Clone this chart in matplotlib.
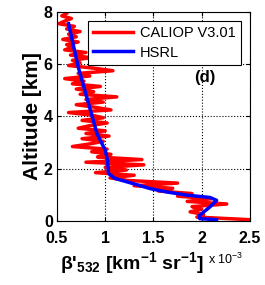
import numpy as np
import matplotlib
matplotlib.use("Agg")
import matplotlib.pyplot as plt

plt.rcParams['font.family'] = ['Liberation Sans', 'DejaVu Sans']
plt.rcParams['mathtext.fontset'] = 'custom'
plt.rcParams['mathtext.rm'] = 'Liberation Sans'
plt.rcParams['mathtext.bf'] = 'Liberation Sans:bold'
plt.rcParams['mathtext.it'] = 'Liberation Sans:bold'

# CALIOP V3.01 profile (x 1e-3 km^-1 sr^-1), altitude bins from top to bottom
caliop_alt = np.round(np.arange(7.95, 0.0, -0.1), 2)
caliop_beta = [0.60, 0.55, 0.65, 0.58, 0.52, 0.68, 0.60, 0.74, 0.62, 0.70,
               0.56, 0.72, 0.60, 0.66, 0.58, 0.80, 0.64, 0.85, 0.66, 0.74,
               0.62, 0.88, 1.08, 0.72, 0.84, 0.58, 0.78, 0.66, 0.95, 0.70,
               0.88, 0.74, 1.12, 0.80, 0.98, 0.70, 0.90, 1.06, 0.62, 0.86,
               0.98, 0.76, 1.02, 0.84, 0.72, 1.00, 0.80, 1.04, 0.76, 0.98,
               0.84, 0.66, 1.02, 0.86, 1.06, 0.92, 1.38, 0.80, 1.40, 1.00,
               1.22, 0.90, 1.30, 1.05, 1.24, 1.75, 1.30, 1.70, 1.55, 1.90,
               1.75, 2.10, 1.85, 2.26, 1.90, 2.00, 1.88, 2.02, 1.95, 2.50]

# HSRL profile
hsrl_alt = [7.55, 5.90, 4.63, 3.35, 2.71, 2.33, 1.82, 1.63, 1.43, 1.24,
            1.11, 0.99, 0.90, 0.79, 0.54, 0.22, 0.09, 0.05]
hsrl_beta = [0.62, 0.72, 0.817, 0.914, 1.00, 1.024, 1.034, 1.10, 1.29, 1.466,
             1.64, 1.845, 2.086, 2.155, 2.086, 1.98, 1.98, 2.155]

xticks = [0.5, 1, 1.5, 2, 2.5]
xticklabels = ['0.5', '1', '1.5', '2', '2.5']
yticks = [0, 2, 4, 6, 8]

fig = plt.figure(figsize=(2.65, 2.85), dpi=100)
ax = fig.add_axes([0.215, 0.2246, 0.728, 0.7334])

ax.plot(caliop_beta, caliop_alt, color='red', lw=2.5, label='CALIOP V3.01')
ax.plot(hsrl_beta, hsrl_alt, color='blue', lw=2.5, label='HSRL')

ax.set_xlim(0.5, 2.5)
ax.set_ylim(0, 8)
ax.set_xticks(xticks)
ax.set_xticklabels(xticklabels)
ax.set_yticks(yticks)
ax.grid(True, color='black', linestyle=':', linewidth=0.8)
ax.tick_params(direction='in', top=True, right=True, length=3, labelsize=11.5)
ax.tick_params(axis='x', pad=7)
ax.tick_params(axis='y', pad=3)
for lab in ax.get_xticklabels() + ax.get_yticklabels():
    lab.set_fontweight('bold')

ax.set_ylabel('Altitude [km]', fontsize=15, fontweight='bold', labelpad=1)

leg = ax.legend(loc='upper right', bbox_to_anchor=(0.99, 0.99), fontsize=10.5,
                frameon=True, fancybox=False, edgecolor='black', framealpha=1,
                handlelength=2.7, borderpad=0.35, labelspacing=0.35, handletextpad=0.5)
leg.get_frame().set_linewidth(0.8)

ax.text(0.765, 0.685, '(d)', transform=ax.transAxes, fontsize=12, fontweight='bold',
        ha='center', va='center')

fig.text(0.225, 0.055,
         r"$\mathbf{\beta}$'$\mathbf{{}_{532}}$ [km$\mathbf{{}^{-1}}$ sr$\mathbf{{}^{-1}}$]",
         fontsize=14, fontweight='bold')
fig.text(0.785, 0.072, r"x 10$^{-3}$", fontsize=9)

fig.savefig('out.png', dpi=100)
